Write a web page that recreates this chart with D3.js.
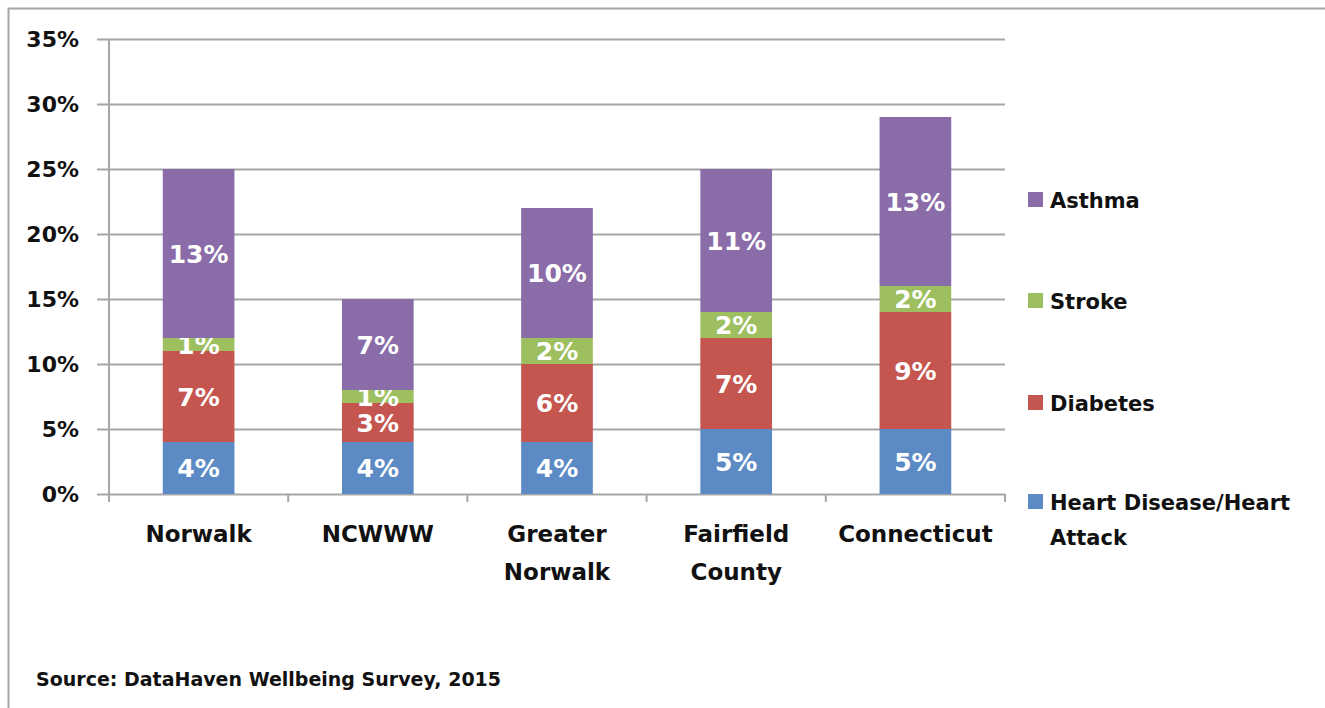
<!DOCTYPE html>
<html>
<head>
<meta charset="utf-8">
<script src="https://cdn.jsdelivr.net/npm/d3@7"></script>
<style>
  body { margin: 0; background: #fff; }
  svg text { font-family: "DejaVu Sans", sans-serif; font-weight: bold; }
</style>
</head>
<body>
<div id="chart"></div>
<script>
// data
var categories = ["Norwalk", "NCWWW", "Greater Norwalk", "Fairfield County", "Connecticut"];
var catLines = [["Norwalk"], ["NCWWW"], ["Greater", "Norwalk"], ["Fairfield", "County"], ["Connecticut"]];
var seriesNames = ["Heart Disease/Heart Attack", "Diabetes", "Stroke", "Asthma"];
var heartDisease = [4, 4, 4, 5, 5];
var diabetes = [7, 3, 6, 7, 9];
var stroke = [1, 1, 2, 2, 2];
var asthma = [13, 7, 10, 11, 13];
var yTicks = [0, 5, 10, 15, 20, 25, 30, 35];
var colors = ["#5b8ac4", "#c5554f", "#9dbf5f", "#8a6ca8"];

var width = 1325, height = 708;
var margin = { top: 39, left: 109, right: 320, bottom: 214 };
var plotW = 1005 - margin.left;
var plotH = 494 - margin.top;

var svg = d3.select("#chart").append("svg")
    .attr("width", width)
    .attr("height", height);

// outer frame
svg.append("path")
    .attr("d", "M8.5," + height + "V8.5H" + width)
    .attr("fill", "none")
    .attr("stroke", "#a6a6a6")
    .attr("stroke-width", 2);

var g = svg.append("g")
    .attr("transform", "translate(" + margin.left + "," + margin.top + ")");

var x = d3.scaleBand().domain(categories).range([0, plotW]).padding(0);
var y = d3.scaleLinear().domain([0, 35]).range([plotH, 0]);

var rows = categories.map(function (c, i) {
    return { cat: c, h: heartDisease[i], d: diabetes[i], s: stroke[i], a: asthma[i] };
});
var stack = d3.stack().keys(["h", "d", "s", "a"]);
var layers = stack(rows);

// gridlines + y axis
var yAxis = g.append("g")
    .call(d3.axisLeft(y).tickValues(yTicks).tickSize(-plotW - 12)
        .tickFormat(function (d) { return d + "%"; }))
    .attr("transform", "translate(-12,0)");
yAxis.select(".domain").remove();
yAxis.selectAll(".tick line").attr("stroke", "#a6a6a6").attr("stroke-width", 2);
yAxis.selectAll(".tick text").attr("x", -18).style("font-size", "22px").attr("fill", "#111");

// vertical axis line
g.append("line")
    .attr("x1", 0).attr("x2", 0).attr("y1", 0).attr("y2", plotH + 8)
    .attr("stroke", "#a6a6a6").attr("stroke-width", 2);

// x ticks at band edges
var edges = categories.map(function (c) { return x(c); }).concat([plotW]);
g.selectAll(".xtick").data(edges).enter().append("line")
    .attr("x1", function (d) { return d; }).attr("x2", function (d) { return d; })
    .attr("y1", plotH).attr("y2", plotH + 8)
    .attr("stroke", "#a6a6a6").attr("stroke-width", 2);

var barW = x.bandwidth() * 0.4;
var barX = function (d) { return x(d.data.cat) + (x.bandwidth() - barW) / 2; };

var layerG = g.selectAll(".layer").data(layers).enter().append("g")
    .attr("fill", function (d, i) { return colors[i]; });

layerG.selectAll("rect").data(function (d) { return d; }).enter().append("rect")
    .attr("x", barX)
    .attr("width", barW)
    .attr("y", function (d) { return y(d[1]); })
    .attr("height", function (d) { return y(d[0]) - y(d[1]); });

// data labels
layerG.selectAll("text").data(function (d) { return d; }).enter().append("text")
    .attr("x", function (d) { return x(d.data.cat) + x.bandwidth() / 2; })
    .attr("y", function (d) { return (y(d[0]) + y(d[1])) / 2; })
    .attr("dy", "0.36em")
    .attr("text-anchor", "middle")
    .attr("fill", "#fff")
    .style("font-size", "25px")
    .text(function (d) { return (d[1] - d[0]) + "%"; });

// category labels
var catG = g.selectAll(".cat").data(categories).enter().append("text")
    .attr("text-anchor", "middle")
    .attr("fill", "#111")
    .style("font-size", "23px")
    .attr("transform", function (d) { return "translate(" + (x(d) + x.bandwidth() / 2) + "," + (plotH + 48) + ")"; });
catG.selectAll("tspan").data(function (d, i) { return catLines[i]; }).enter().append("tspan")
    .attr("x", 0)
    .attr("dy", function (d, i) { return i === 0 ? 0 : 38; })
    .text(function (d) { return d; });

// legend (reverse order, top = Asthma)
var legendY = [200, 301, 403, 502];
var legend = svg.selectAll(".legend").data(seriesNames.slice().reverse()).enter().append("g")
    .attr("transform", function (d, i) { return "translate(1028," + legendY[i] + ")"; });
legend.append("rect")
    .attr("x", 0).attr("y", -8).attr("width", 15).attr("height", 15)
    .attr("fill", function (d, i) { return colors[3 - i]; });
var legText = legend.append("text")
    .attr("x", 22)
    .style("font-size", "21px")
    .attr("fill", "#111");
legText.selectAll("tspan").data(function (d) {
    return d === "Heart Disease/Heart Attack" ? ["Heart Disease/Heart", "Attack"] : [d];
}).enter().append("tspan")
    .attr("x", 22)
    .attr("dy", function (d, i) { return i === 0 ? "0.36em" : 35; })
    .text(function (d) { return d; });

// source note
svg.append("text")
    .attr("x", 36).attr("y", 686)
    .style("font-size", "19px")
    .attr("fill", "#111")
    .text("Source:  DataHaven Wellbeing Survey, 2015");
</script>
</body>
</html>
